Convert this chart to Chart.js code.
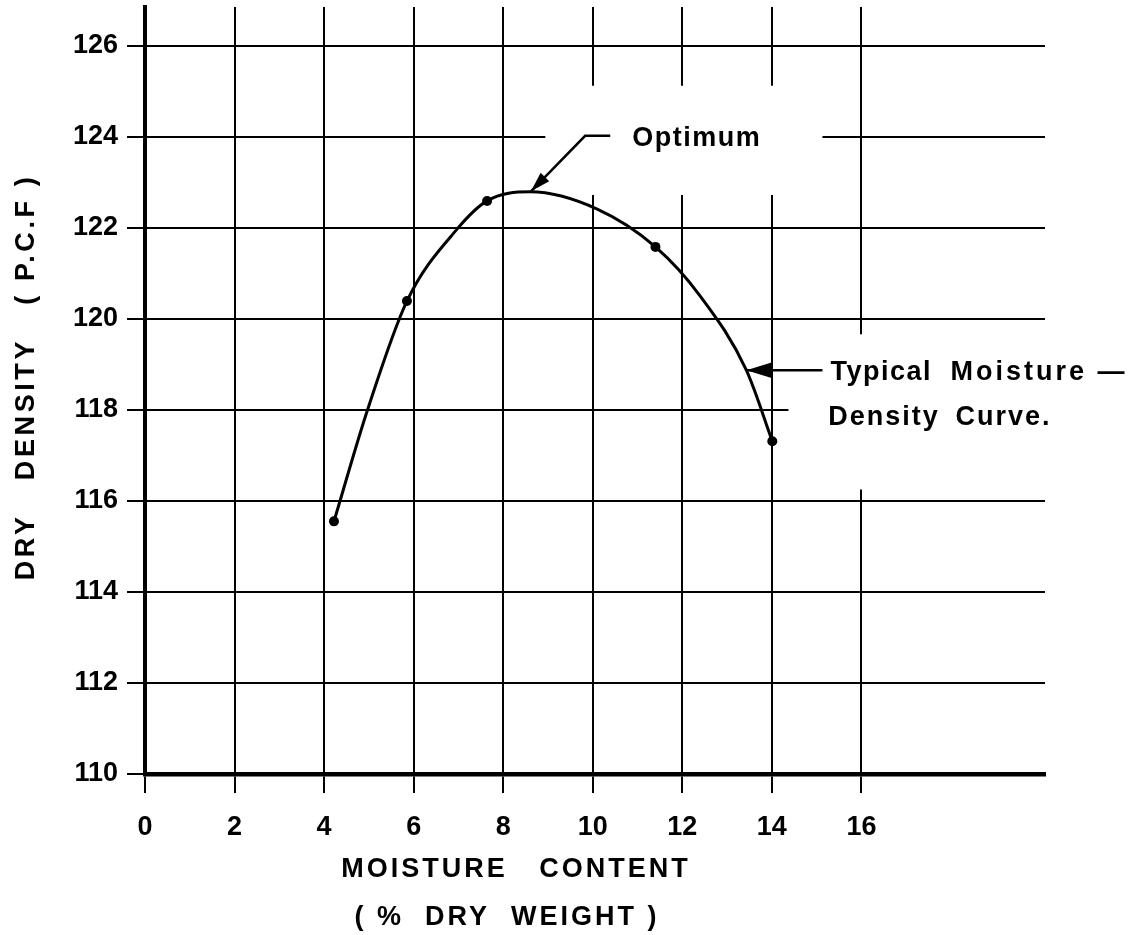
<!DOCTYPE html>
<html>
<head>
<meta charset="utf-8">
<script src="https://cdn.jsdelivr.net/npm/chart.js@4.4.1/dist/chart.umd.min.js"></script>
<style>
  html, body { margin: 0; padding: 0; background: #fff; }
  canvas { display: block; }
</style>
</head>
<body>
<canvas id="proctor" width="1144" height="935"></canvas>
<script>
// test points (dots)
const testMoisture = [4.22, 5.85, 7.64, 11.40, 14.01];          // % dry weight
const testDensity = [115.55, 120.39, 122.59, 121.58, 117.31];   // p.c.f
// hand drawn curve
const curveMoisture = [4.22, 4.96, 5.85, 6.97, 7.64, 8.60, 10.10, 11.40, 12.40, 13.43, 14.01];
const curveDensity = [115.55, 117.97, 120.39, 121.97, 122.59, 122.79, 122.41, 121.58, 120.50, 118.87, 117.31];
const xTicks = [0, 2, 4, 6, 8, 10, 12, 14, 16];
const yTicks = [110, 112, 114, 116, 118, 120, 122, 124, 126];
const xTitle = ['MOISTURE   CONTENT', '( %  DRY  WEIGHT )'];
const yTitle = 'DRY   DENSITY   ( P.C.F )';
const optimumLabel = 'Optimum';
const curveLabel = [['Typical', 'Moisture \u2014'], ['Density', 'Curve.']];

const FONT = '"Liberation Sans", Arial, sans-serif';
const INK = '#000';

// white-out the grid where the hand drawn notes sit
const gridGaps = {
  id: 'gridGaps',
  beforeDatasetsDraw(chart) {
    const { ctx, scales: { x, y } } = chart;
    const box = (x0, x1, y0, y1) => {
      const l = x.getPixelForValue(x0), r = x.getPixelForValue(x1);
      const t = y.getPixelForValue(y1), b = y.getPixelForValue(y0);
      ctx.fillRect(l, t, r - l, b - t);
    };
    ctx.save();
    ctx.fillStyle = '#fff';
    box(8.94, 15.13, 122.72, 125.12);
    box(14.37, 20.3, 117.93, 118.07);
    box(15.88, 16.12, 116.25, 119.66);
    ctx.restore();
  }
};

const notes = {
  id: 'notes',
  afterDraw(chart) {
    const { ctx, scales: { x, y } } = chart;
    const px = v => x.getPixelForValue(v);
    const py = v => y.getPixelForValue(v);
    ctx.save();
    ctx.fillStyle = INK;
    ctx.strokeStyle = INK;
    ctx.font = 'bold 27px ' + FONT;
    ctx.textBaseline = 'middle';
    ctx.textAlign = 'left';

    // Optimum leader + arrow
    ctx.lineWidth = 2.5;
    const tip = [px(8.62), py(122.8)];
    const bend = [px(9.83), py(124.02)];
    ctx.beginPath();
    ctx.moveTo(px(10.39), bend[1]);
    ctx.lineTo(bend[0], bend[1]);
    ctx.lineTo(tip[0], tip[1]);
    ctx.stroke();
    arrowHead(ctx, bend, tip, 20, 6);
    ctx.letterSpacing = '1.5px';
    ctx.fillText(optimumLabel, px(10.88), py(123.95));

    // typical curve note
    const ty = py(118.87);
    const from = [px(15.13), ty], to = [px(13.43), ty];
    ctx.beginPath();
    ctx.moveTo(from[0], from[1]);
    ctx.lineTo(to[0], to[1]);
    ctx.stroke();
    arrowHead(ctx, from, to, 26, 8);
    ctx.letterSpacing = '1.5px';
    ctx.fillText(curveLabel[0][0], px(15.31), py(118.82));
    ctx.letterSpacing = '3px';
    ctx.fillText(curveLabel[0][1], px(17.99), py(118.82));
    ctx.letterSpacing = '2px';
    ctx.fillText(curveLabel[1][0], px(15.26), py(117.83));
    ctx.fillText(curveLabel[1][1], px(18.1), py(117.83));

    // axis titles
    ctx.letterSpacing = '3px';
    ctx.textAlign = 'center';
    ctx.fillText(xTitle[0], 516, 870);
    ctx.fillText(xTitle[1], 507, 918);
    ctx.letterSpacing = '3.6px';
    ctx.translate(27, 377);
    ctx.rotate(-Math.PI / 2);
    ctx.fillText(yTitle, 0, 0);
    ctx.restore();
  }
};

function arrowHead(ctx, from, to, len, half) {
  const a = Math.atan2(to[1] - from[1], to[0] - from[0]);
  const bx = to[0] - len * Math.cos(a), by = to[1] - len * Math.sin(a);
  ctx.beginPath();
  ctx.moveTo(to[0], to[1]);
  ctx.lineTo(bx + half * Math.sin(a), by - half * Math.cos(a));
  ctx.lineTo(bx - half * Math.sin(a), by + half * Math.cos(a));
  ctx.closePath();
  ctx.fill();
}

const tickFont = { family: FONT, size: 27, weight: 'bold' };

new Chart(document.getElementById('proctor'), {
  type: 'line',
  data: {
    datasets: [{
      data: curveMoisture.map((m, i) => ({ x: m, y: curveDensity[i] })),
      borderColor: INK,
      borderWidth: 3,
      pointRadius: 0,
      cubicInterpolationMode: 'monotone',
      fill: false
    }, {
      data: testMoisture.map((m, i) => ({ x: m, y: testDensity[i] })),
      showLine: false,
      backgroundColor: INK,
      borderColor: INK,
      pointRadius: 5,
      pointBorderWidth: 0
    }]
  },
  options: {
    responsive: false,
    animation: false,
    events: [],
    layout: { padding: { top: 7, right: 99, left: 0, bottom: 0 } },
    plugins: { legend: { display: false }, tooltip: { enabled: false } },
    scales: {
      x: {
        type: 'linear', min: 0, max: 20.1,
        afterBuildTicks: s => { s.ticks = xTicks.map(v => ({ value: v })); },
        afterFit: s => { s.height = 161; s.paddingLeft = 0; s.paddingRight = 0; },
        grid: { color: INK, lineWidth: 2, tickLength: 19, tickColor: INK },
        border: { color: INK, width: 4.5 },
        ticks: { color: INK, font: tickFont, padding: 18, maxRotation: 0 }
      },
      y: {
        type: 'linear', min: 110, max: 126.85,
        afterBuildTicks: s => { s.ticks = yTicks.map(v => ({ value: v })); },
        afterFit: s => { s.width = 145; s.paddingTop = 0; s.paddingBottom = 0; },
        grid: { color: INK, lineWidth: 2, tickLength: 18, tickColor: INK },
        border: { color: INK, width: 4 },
        ticks: { color: INK, font: tickFont, padding: 9 }
      }
    }
  },
  plugins: [gridGaps, notes]
});
</script>
</body>
</html>
